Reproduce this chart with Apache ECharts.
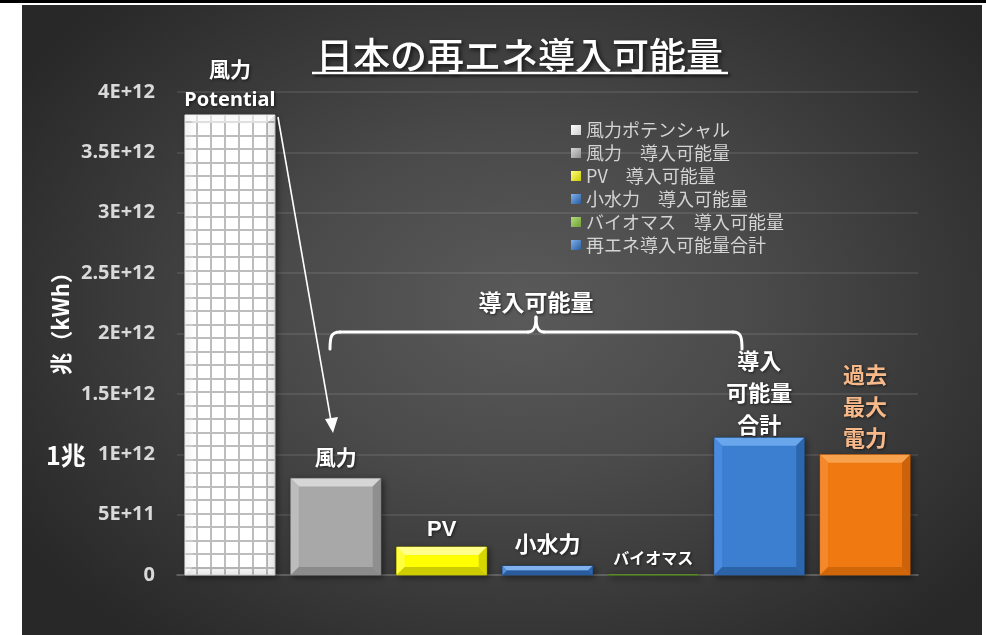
<!DOCTYPE html>
<html>
<head>
<meta charset="utf-8">
<title>日本の再エネ導入可能量</title>
<script src="https://cdn.jsdelivr.net/npm/echarts@6/dist/echarts.min.js"></script>
<style>
  html, body { margin: 0; padding: 0; background: #ffffff; }
  #topbar { position: absolute; left: 0; top: 0; width: 986px; height: 3px; background: #000; }
  #panel {
    position: absolute; left: 22px; top: 5px; width: 960px; height: 630px;
    background: radial-gradient(ellipse 62% 68% at 52% 48%, #5a5a5a 0%, #4a4a4a 40%, #363636 75%, #282828 100%);
  }
  #chart { position: absolute; left: 0; top: 0; width: 986px; height: 635px; }
</style>
</head>
<body>
<div id="topbar"></div>
<div id="panel"></div>
<div id="chart"></div>
<script>
// ---- data ----
const categories = ['風力ポテンシャル', '風力', 'PV', '小水力', 'バイオマス', '導入可能量合計', '過去最大電力'];
const seriesNames = ['風力ポテンシャル', '風力　導入可能量', 'PV　導入可能量', '小水力　導入可能量', 'バイオマス　導入可能量', '再エネ導入可能量合計', '過去最大電力'];
const values = [3.81e12, 0.80e12, 0.232e12, 0.075e12, 0.004e12, 1.137e12, 0.996e12];
const barLabels = [['風力', 'Potential'], ['風力'], ['PV'], ['小水力'], ['バイオマス'], ['導入', '可能量', '合計'], ['過去', '最大', '電力']];
const yTickLabels = ['0', '5E+11', '1E+12', '1.5E+12', '2E+12', '2.5E+12', '3E+12', '3.5E+12', '4E+12'];
const yMin = 0, yMax = 4e12, yStep = 5e11;
const legendNames = seriesNames.slice(0, 6);

// ---- styles ----
const CJK = '"Noto Sans CJK JP", "Noto Sans", sans-serif';
const barStyles = [
  { base: 'pattern', top: 'rgba(255,255,255,0.55)', left: 'rgba(255,255,255,0.25)', right: 'rgba(0,0,0,0.06)', bottom: 'rgba(0,0,0,0.05)', edge: '#d8d8d8', legend: ['#ffffff', '#cfcfcf'] },
  { base: '#a8a8a8', top: '#d6d6d6', left: '#bcbcbc', right: '#8f8f8f', bottom: '#8b8b8b', edge: '#777777', legend: ['#d8d8d8', '#8f8f8f'] },
  { base: '#ffff00', top: '#ffff8a', left: '#ffff40', right: '#d6d600', bottom: '#cccc00', edge: '#a8a800', legend: ['#ffff80', '#cccc00'] },
  { base: '#3f7fce', top: '#7fb2ee', left: '#5590dc', right: '#2f66ad', bottom: '#2a5b9c', edge: '#1f4a80', legend: ['#7fb2ee', '#2a5b9c'] },
  { base: '#5f8f2d', top: '#7fb04a', left: '#6a9a35', right: '#4a7322', bottom: '#4a7322', edge: '#3d5f1c', legend: ['#b4dc7a', '#6ea03a'] },
  { base: '#3c7ed0', top: '#6aa6ec', left: '#4a8be0', right: '#2d66ad', bottom: '#2c63a6', edge: '#1f4a80', legend: ['#7fb2ee', '#2a5b9c'] },
  { base: '#f07912', top: '#f8a24e', left: '#f4882a', right: '#cc620a', bottom: '#d0660a', edge: '#a84f06', legend: ['#f8a24e', '#cc620a'] }
];
const labelStyles = [
  { gap: 15, lh: 31, fonts: ['bold 21px ' + CJK, 'bold 20px "Noto Sans", sans-serif'], color: '#ffffff' },
  { gap: 21, lh: 30, fonts: ['bold 21px ' + CJK], color: '#ffffff' },
  { gap: 17, lh: 30, fonts: ['bold 22px "Liberation Sans", Arial, sans-serif'], color: '#ffffff' },
  { gap: 22, lh: 30, fonts: ['bold 22px ' + CJK], color: '#ffffff' },
  { gap: 17, lh: 30, fonts: ['bold 16px ' + CJK], color: '#ffffff' },
  { gap: 13, lh: 32, fonts: ['bold 22px ' + CJK], color: '#ffffff' },
  { gap: 17, lh: 31.5, fonts: ['bold 22px ' + CJK], color: '#f8b98a' }
];
const textShadow = { textShadowColor: 'rgba(0,0,0,0.6)', textShadowBlur: 3, textShadowOffsetX: 1, textShadowOffsetY: 1 };

// grid fill for the potential bar
function makeGridPattern() {
  const c = document.createElement('canvas');
  c.width = 14; c.height = 27;
  const g = c.getContext('2d');
  g.fillStyle = '#ffffff';
  g.fillRect(0, 0, 14, 27);
  g.fillStyle = '#bdbdbd';
  g.fillRect(0, 0, 2, 27);
  g.fillRect(0, 0, 14, 2);
  g.fillRect(0, 13, 14, 2);
  return c;
}
const gridPattern = { image: makeGridPattern(), repeat: 'repeat' };

function renderBar(params, api) {
  const idx = api.value(0);
  const v = api.value(1);
  const topPt = api.coord([idx, v]);
  const basePt = api.coord([idx, 0]);
  const band = api.size([1, 0])[0];
  const w = band * 0.85;
  const x = topPt[0] - w / 2;
  const y = topPt[1];
  const h = Math.max(basePt[1] - topPt[1], 1);
  const s = barStyles[idx];
  const b = Math.min(8, h / 2, w / 2);
  const children = [
    {
      type: 'rect',
      shape: { x: x, y: y, width: w, height: h },
      style: {
        fill: s.base === 'pattern' ? gridPattern : s.base,
        stroke: s.edge, lineWidth: 1,
        shadowBlur: 6, shadowColor: 'rgba(0,0,0,0.45)', shadowOffsetX: 2, shadowOffsetY: 2
      }
    },
    { type: 'polygon', shape: { points: [[x, y], [x + w, y], [x + w - b, y + b], [x + b, y + b]] }, style: { fill: s.top } },
    { type: 'polygon', shape: { points: [[x, y], [x + b, y + b], [x + b, y + h - b], [x, y + h]] }, style: { fill: s.left } },
    { type: 'polygon', shape: { points: [[x + w, y], [x + w, y + h], [x + w - b, y + h - b], [x + w - b, y + b]] }, style: { fill: s.right } },
    { type: 'polygon', shape: { points: [[x, y + h], [x + b, y + h - b], [x + w - b, y + h - b], [x + w, y + h]] }, style: { fill: s.bottom } }
  ];
  const ls = labelStyles[idx];
  const lines = barLabels[idx];
  lines.forEach(function (txt, k) {
    const cy = y - ls.gap - (lines.length - 1 - k) * ls.lh;
    children.push({
      type: 'text',
      style: Object.assign({
        text: txt, x: topPt[0], y: cy, align: 'center', verticalAlign: 'middle',
        fill: ls.color, font: ls.fonts[Math.min(k, ls.fonts.length - 1)]
      }, textShadow)
    });
  });
  return { type: 'group', children: children };
}

const series = categories.map(function (cat, i) {
  return {
    name: seriesNames[i],
    type: 'custom',
    renderItem: renderBar,
    encode: { x: 0, y: 1 },
    itemStyle: {
      color: new echarts.graphic.LinearGradient(0, 0, 1, 1, [
        { offset: 0, color: barStyles[i].legend[0] },
        { offset: 1, color: barStyles[i].legend[1] }
      ])
    },
    data: [[i, values[i]]],
    z: 3
  };
});

const braceStyle = { stroke: '#ffffff', lineWidth: 3, fill: null, lineCap: 'round' };

const chart = echarts.init(document.getElementById('chart'), null, { renderer: 'canvas' });
chart.setOption({
  backgroundColor: 'transparent',
  animation: false,
  title: {
    text: '日本の再エネ導入可能量',
    left: 311, top: 32,
    textStyle: {
      color: '#ffffff', fontFamily: CJK, fontWeight: 500, fontSize: 37,
      textShadowColor: 'rgba(0,0,0,0.7)', textShadowBlur: 4, textShadowOffsetX: 2, textShadowOffsetY: 2
    }
  },
  legend: {
    data: legendNames,
    orient: 'vertical',
    left: 566, top: 116,
    icon: 'rect',
    itemWidth: 10, itemHeight: 10, itemGap: 5,
    selectedMode: false,
    textStyle: { color: '#d4d4d4', fontFamily: CJK, fontSize: 18 }
  },
  grid: { left: 177, right: 68, top: 92, bottom: 60, containLabel: false },
  xAxis: {
    type: 'category',
    data: categories,
    axisLine: { show: true, lineStyle: { color: '#6a6a6a', width: 1.5 } },
    axisTick: { show: false },
    axisLabel: { show: false }
  },
  yAxis: {
    type: 'value',
    min: yMin, max: yMax, interval: yStep,
    axisLine: { show: false },
    axisTick: { show: false },
    splitLine: { lineStyle: { color: 'rgba(255,255,255,0.12)', width: 1.5 } },
    axisLabel: {
      margin: 22,
      color: '#d9d9d9',
      fontFamily: '"Noto Sans", sans-serif',
      fontWeight: 'bold',
      fontSize: 20,
      formatter: function (val) {
        return yTickLabels[Math.round((val - yMin) / yStep)];
      }
    }
  },
  graphic: [
    // title underline
    { type: 'line', shape: { x1: 312, y1: 73, x2: 728, y2: 73 }, style: { stroke: '#ffffff', lineWidth: 2.5, shadowColor: 'rgba(0,0,0,0.7)', shadowBlur: 3, shadowOffsetX: 2, shadowOffsetY: 2 }, z: 10 },
    // axis unit
    { type: 'text', x: 61, y: 318, rotation: Math.PI / 2, style: { text: '兆（kWh）', align: 'center', verticalAlign: 'middle', fill: '#ffffff', font: 'bold 22px ' + CJK }, z: 10 },
    { type: 'text', x: 66, y: 455, style: { text: '1兆', align: 'center', verticalAlign: 'middle', fill: '#ffffff', font: 'bold 25px ' + CJK }, z: 10 },
    // arrow from the potential bar down to the installable wind bar
    { type: 'line', shape: { x1: 278, y1: 117, x2: 331, y2: 421 }, style: { stroke: '#ffffff', lineWidth: 1.6 }, z: 10 },
    { type: 'polygon', shape: { points: [[325, 419], [338, 417], [333, 433]] }, style: { fill: '#ffffff' }, z: 10 },
    // brace over the installable categories
    { type: 'bezierCurve', shape: { x1: 330, y1: 349, cpx1: 330, cpy1: 337, cpx2: 331, cpy2: 332, x2: 340, y2: 332 }, style: braceStyle, z: 10 },
    { type: 'line', shape: { x1: 340, y1: 332, x2: 528, y2: 332 }, style: braceStyle, z: 10 },
    { type: 'bezierCurve', shape: { x1: 528, y1: 332, cpx1: 533, cpy1: 332, cpx2: 536, cpy2: 329, x2: 536, y2: 317 }, style: braceStyle, z: 10 },
    { type: 'bezierCurve', shape: { x1: 536, y1: 317, cpx1: 536, cpy1: 329, cpx2: 539, cpy2: 332, x2: 544, y2: 332 }, style: braceStyle, z: 10 },
    { type: 'line', shape: { x1: 544, y1: 332, x2: 733, y2: 332 }, style: braceStyle, z: 10 },
    { type: 'bezierCurve', shape: { x1: 733, y1: 332, cpx1: 741, cpy1: 332, cpx2: 742, cpy2: 337, x2: 742, y2: 349 }, style: braceStyle, z: 10 },
    { type: 'text', x: 536, y: 302, style: Object.assign({ text: '導入可能量', align: 'center', verticalAlign: 'middle', fill: '#ffffff', font: 'bold 23px ' + CJK }, textShadow), z: 10 }
  ],
  series: series
});
</script>
</body>
</html>
